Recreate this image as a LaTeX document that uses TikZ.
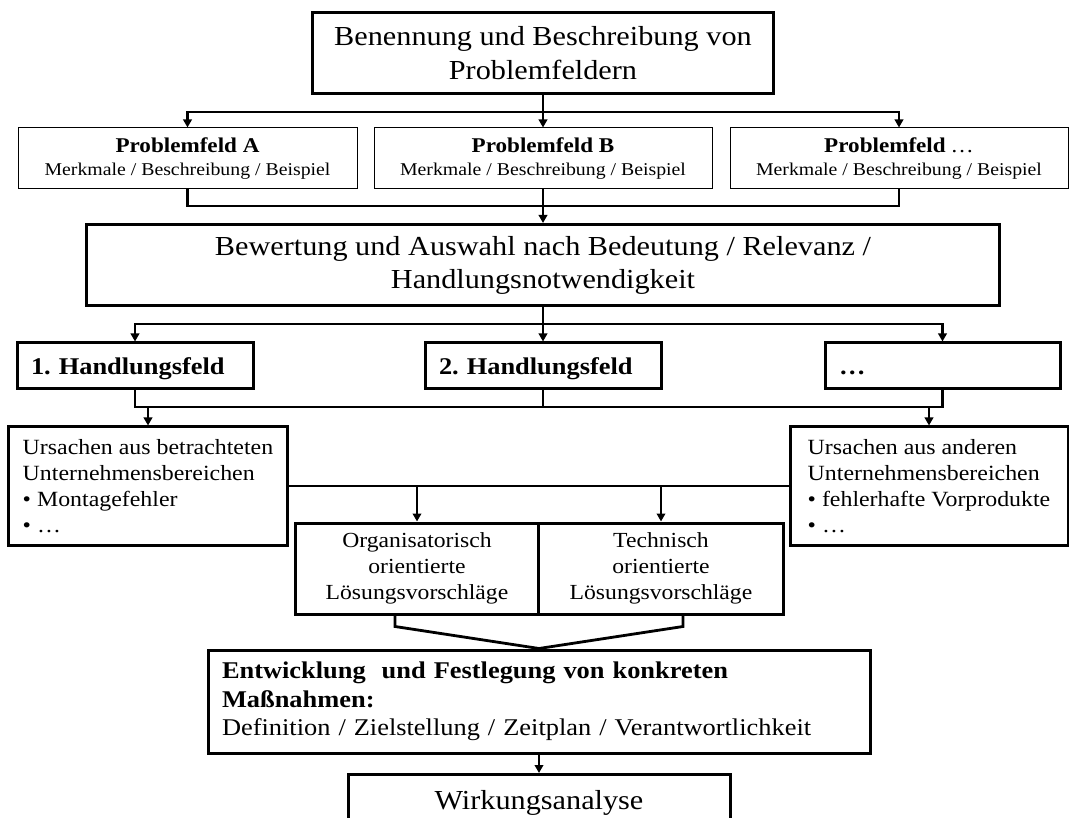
\documentclass[tikz,border=0pt]{standalone}
\usepackage{fontspec}
\setmainfont[FakeStretch=1.1]{Liberation Serif}
\usepackage{tikz}
\usetikzlibrary{arrows.meta,positioning}

\tikzset{
    dick/.style={draw,rectangle,line width=3pt,inner sep=0pt},
    duenn/.style={draw,rectangle,line width=1pt,inner sep=0pt},
    verb/.style={line width=2.8pt}
}

\begin{document}
\begin{tikzpicture}[x=1pt,y=-1pt,>={Triangle[length=8pt,width=8.5pt]}]
        \clip (0,0) rectangle (1069,818);
        \node[dick,minimum width=461pt,minimum height=81pt,align=center,font=\fontsize{27.5}{34}\selectfont] (ben) at (543,53.5) {Benennung und Beschreibung von\\Problemfeldern};
        \node[duenn,minimum width=339pt,minimum height=61pt,align=center,font=\fontsize{18}{23}\selectfont] (pA) at (187.5,158.5) {{\bfseries\fontsize{21}{23}\selectfont Problemfeld A}\\Merkmale / Beschreibung / Beispiel};
        \node[duenn,minimum width=338pt,minimum height=61pt,align=center,font=\fontsize{18}{23}\selectfont] (pB) at (543,158.5) {{\bfseries\fontsize{21}{23}\selectfont Problemfeld B}\\Merkmale / Beschreibung / Beispiel};
        \node[duenn,minimum width=338pt,minimum height=61pt,align=center,font=\fontsize{18}{23}\selectfont] (pC) at (899,158.5) {{\bfseries\fontsize{21}{23}\selectfont Problemfeld} {\fontsize{21}{23}\selectfont …}\\Merkmale / Beschreibung / Beispiel};
        \node[dick,minimum width=913pt,minimum height=81pt,align=center,font=\fontsize{27.5}{33}\selectfont] (bew) at (543,265) {Bewertung und Auswahl nach Bedeutung / Relevanz /\\Handlungsnotwendigkeit};
        \node[dick,text width=208pt,inner xsep=14pt,minimum height=46pt,align=left,text height=19pt,text depth=2pt,font=\bfseries\fontsize{24}{28}\selectfont] (h1) at (135,366) {1.\ Handlungsfeld};
        \node[dick,text width=208pt,inner xsep=14pt,minimum height=46pt,align=left,text height=19pt,text depth=2pt,font=\bfseries\fontsize{24}{28}\selectfont] (h2) at (543,366) {2.\ Handlungsfeld};
        \node[dick,text width=207pt,inner xsep=14pt,minimum height=46pt,align=left,text height=19pt,text depth=2pt,font=\bfseries\fontsize{24}{28}\selectfont] (h3) at (942.5,366) {…};
        \node[dick,minimum width=279pt,minimum height=118pt,align=left,font=\fontsize{21.7}{26}\selectfont] (ursL) at (148,486) {Ursachen aus betrachteten\\Unternehmensbereichen\\• Montagefehler\\• …};
        \node[dick,minimum width=278pt,minimum height=118pt,align=left,font=\fontsize{21.7}{26}\selectfont] (ursR) at (929,486) {Ursachen aus anderen\\Unternehmensbereichen\\• fehlerhafte Vorprodukte\\• …};
        \node[dick,minimum width=243.6pt,minimum height=91pt,align=center,font=\fontsize{21.5}{26}\selectfont] (org) at (417,568.5) {Organisatorisch\\orientierte\\Lösungsvorschläge};
        \node[dick,minimum width=244.4pt,minimum height=91pt,align=center,font=\fontsize{21.5}{26}\selectfont] (tech) at (661,568.5) {Technisch\\orientierte\\Lösungsvorschläge};
        \node[dick,text width=634pt,inner xsep=14pt,minimum height=103pt,align=left,font=\fontsize{24}{28.5}\selectfont] (ent) at (539,701.5) {\textbf{Entwicklung\ \ und Festlegung von konkreten}\\\textbf{Maßnahmen:}\\Definition / Zielstellung / Zeitplan / Verantwortlichkeit};
        \node[dick,minimum width=382pt,minimum height=56pt,anchor=north,text height=20pt,text depth=6pt,font=\fontsize{27.5}{33}\selectfont] (wirk) at (539,773) {Wirkungsanalyse};
        \coordinate (k1) at (543,112);
        \coordinate (k2) at (543,206);
        \coordinate (k3) at (543,324);
        \coordinate (k4) at (543,407);
        \draw[verb] (ben)--(k1);
        \draw[verb,->] (k1)-|(pA);
        \draw[verb,->] (k1)--(pB);
        \draw[verb,->] (k1)-|(pC);
        \draw[verb] (pA)|-(k2)-|(pC);
        \draw[verb,->] (pB)--(bew);
        \draw[verb] (bew)--(k3);
        \draw[verb,->] (k3)-|(h1);
        \draw[verb,->] (k3)--(h2);
        \draw[verb,->] (k3)-|(h3);
        \draw[verb] (h1)|-(k4)-|(h3);
        \draw[verb] (h2)--(k4);
        \draw[verb,->] (ursL.north|-k4)--(ursL);
        \draw[verb,->] (ursR.north|-k4)--(ursR);
        \draw[verb] (ursL)--(ursR);
        \draw[verb,->] (org.north|-ursL.east)--(org);
        \draw[verb,->] (tech.north|-ursL.east)--(tech);
        \draw[verb] ([xshift=-22pt]org.south)--++(0,11)--(ent.north);
        \draw[verb] ([xshift=22pt]tech.south)--++(0,11)--(ent.north);
        \draw[verb,->] (ent)--(wirk);
    \end{tikzpicture}
\end{document}
